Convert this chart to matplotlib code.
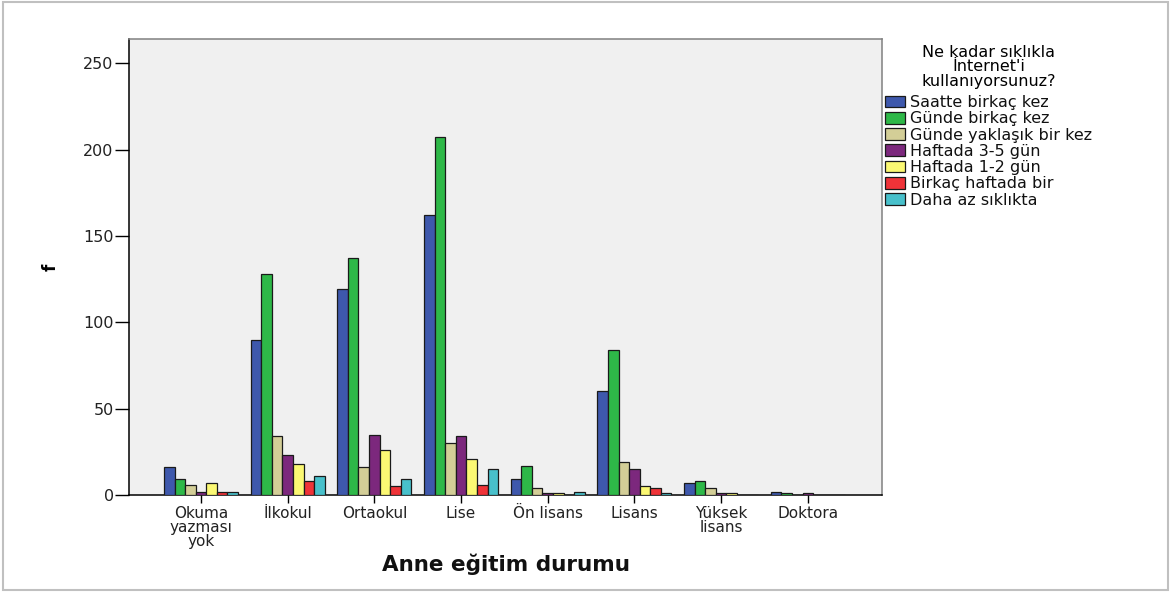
import matplotlib
matplotlib.use("Agg")
import matplotlib.pyplot as plt
from matplotlib.patches import Rectangle
import numpy as np

plt.rcParams['font.family'] = ['DejaVu Sans']

categories = ["Okuma\nyazması\nyok", "İlkokul", "Ortaokul", "Lise",
              "Ön lisans", "Lisans", "Yüksek\nlisans", "Doktora"]

series_names = ["Saatte birkaç kez", "Günde birkaç kez", "Günde yaklaşık bir kez",
                "Haftada 3-5 gün", "Haftada 1-2 gün", "Birkaç haftada bir",
                "Daha az sıklıkta"]

saatte_birkac = [16, 90, 119, 162, 9, 60, 7, 2]
gunde_birkac = [9, 128, 137, 207, 17, 84, 8, 1]
gunde_bir = [6, 34, 16, 30, 4, 19, 4, 0]
haftada_3_5 = [2, 23, 35, 34, 1, 15, 1, 1]
haftada_1_2 = [7, 18, 26, 21, 1, 5, 1, 0]
birkac_haftada = [2, 8, 5, 6, 0, 4, 0, 0]
daha_az = [2, 11, 9, 15, 2, 1, 0, 0]

series_values = [saatte_birkac, gunde_birkac, gunde_bir, haftada_3_5,
                 haftada_1_2, birkac_haftada, daha_az]

colors = ["#3E58AC", "#2EB848", "#D3CE97", "#7C287D", "#FBF873", "#EF3338", "#48C0CB"]

W, H = 1171, 592
fig = plt.figure(figsize=(W / 100, H / 100), dpi=100)
ax = fig.add_axes([129 / W, 1 - 495 / H, (882 - 129) / W, (495 - 39) / H])
ax.set_facecolor("#F0F0F0")

x = np.arange(len(categories))
width = 0.122
n = len(series_values)
for i, (name, vals, col) in enumerate(zip(series_names, series_values, colors)):
    ax.bar(x + (i - (n - 1) / 2) * width, vals, width, color=col,
           edgecolor="#1a1a1a", linewidth=0.9, label=name, zorder=3)

ax.set_xlim(-0.83, 7.855)
ax.set_ylim(0, 264)
ax.set_yticks([0, 50, 100, 150, 200, 250])
ax.set_xticks(x)
ax.set_xticklabels(categories, fontsize=11, linespacing=0.9, color="#222222")
ax.tick_params(axis='y', direction='out', length=10, width=1, labelsize=11.5,
               labelcolor="#222222", pad=1)
ax.tick_params(axis='x', direction='out', length=6, width=1, pad=2)

for side in ("left", "bottom"):
    ax.spines[side].set_color("black")
    ax.spines[side].set_linewidth(1.1)
for side in ("top", "right"):
    ax.spines[side].set_color("#808080")
    ax.spines[side].set_linewidth(1.1)

ax.set_ylabel("f", fontsize=12, fontweight="bold")
ax.yaxis.set_label_coords(-0.092, 0.5)
ax.set_xlabel("Anne eğitim durumu", fontsize=15.5, fontweight="bold", color="#111111")
ax.xaxis.set_label_coords(0.5, -0.128)

leg = fig.legend(loc="upper left", bbox_to_anchor=(885 / W, 1 - 45 / H),
                 frameon=False, fontsize=11.5,
                 title="Ne kadar sıklıkla\nİnternet'i\nkullanıyorsunuz?",
                 title_fontsize=11.5, alignment="center",
                 handlelength=1.25, handleheight=0.75, handletextpad=0.3,
                 labelspacing=0.08, borderpad=0, borderaxespad=0)
# a little more room between the title block and the entries
leg._legend_box.sep = 4.5
title = leg.get_title()
title.set_linespacing(0.95)
title.set_multialignment("center")
for t in leg.get_texts():
    t.set_color("#111111")

# light grey frame around the whole figure
fig.patches.append(Rectangle((3 / W, 2 / H), (1168 - 3) / W, (590 - 2) / H,
                             transform=fig.transFigure, fill=False,
                             edgecolor="#c0c0c0", linewidth=1.5))

fig.savefig("out.png", dpi=100)
